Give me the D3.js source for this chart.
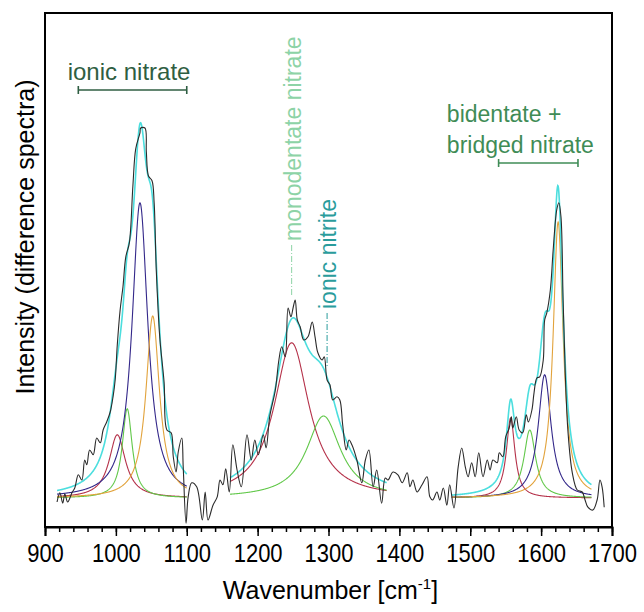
<!DOCTYPE html>
<html>
<head>
<meta charset="utf-8">
<script src="https://cdn.jsdelivr.net/npm/d3@7"></script>
<style>
  html, body { margin: 0; padding: 0; background: #fff; }
  svg { display: block; font-family: "Liberation Sans", Arial, sans-serif; }
</style>
</head>
<body>
<svg id="chart" width="644" height="612"></svg>
<script>
// Measured difference spectrum (wavenumber in cm-1, intensity in arbitrary units)
const wavenumber = [
  917, 921, 925, 928, 932, 938, 942, 947, 952, 956, 959, 963, 968, 973, 978, 982, 987, 992, 996, 999,
  1002, 1006, 1010, 1014, 1019, 1024, 1028, 1034, 1035, 1041, 1043, 1046, 1051, 1054, 1057, 1062, 1068, 1072, 1078, 1081,
  1085, 1088, 1093, 1095, 1099, 1102, 1107, 1114, 1122, 1126, 1130, 1137, 1143, 1147, 1151, 1155, 1160, 1165, 1171, 1177,
  1185, 1191, 1196, 1201, 1208, 1212, 1217, 1225, 1230, 1234, 1239, 1243, 1247, 1250, 1253, 1256, 1260, 1265, 1271, 1277,
  1281, 1285, 1291, 1294, 1298, 1302, 1306, 1312, 1316, 1320, 1325, 1329, 1333, 1340, 1347, 1352, 1357, 1363, 1368, 1375,
  1380, 1384, 1391, 1398, 1404, 1411, 1415, 1419, 1425, 1432, 1439, 1443, 1447, 1453, 1457, 1462, 1467, 1471, 1477, 1483,
  1488, 1493, 1497, 1502, 1507, 1512, 1518, 1524, 1528, 1532, 1538, 1541, 1546, 1550, 1555, 1558, 1560, 1565, 1569, 1574,
  1579, 1582, 1587, 1590, 1594, 1598, 1603, 1605, 1608, 1613, 1617, 1622, 1625, 1628, 1631, 1634, 1638, 1644, 1651, 1658,
  1662, 1666, 1673, 1679, 1683, 1686, 1689
];
const intensity = [
  -0.010, 0.013, -0.013, 0.010, -0.010, 0.013, 0.025, 0.058, 0.045, 0.095, 0.083, 0.120, 0.108, 0.150, 0.138, 0.170, 0.190, 0.215, 0.253, 0.295,
  0.383, 0.470, 0.528, 0.603, 0.638, 0.780, 0.873, 0.913, 0.925, 0.925, 0.865, 0.805, 0.793, 0.738, 0.570, 0.400, 0.290, 0.170, 0.163, 0.103,
  0.065, 0.115, 0.150, 0.078, -0.063, 0.003, 0.038, 0.028, -0.055, 0.015, -0.055, -0.018, 0.003, 0.045, 0.033, 0.073, 0.015, 0.133, 0.070, 0.028,
  0.158, 0.095, 0.145, 0.108, 0.158, 0.125, 0.203, 0.270, 0.345, 0.378, 0.353, 0.475, 0.453, 0.475, 0.495, 0.445, 0.428, 0.395, 0.403, 0.440,
  0.403, 0.363, 0.345, 0.353, 0.295, 0.283, 0.245, 0.253, 0.245, 0.183, 0.120, 0.145, 0.133, 0.095, 0.038, 0.095, 0.120, 0.028, 0.070, -0.013,
  0.050, 0.045, 0.065, 0.058, 0.038, 0.063, 0.028, 0.045, 0.015, 0.033, 0.053, 0.003, -0.005, 0.015, -0.005, 0.025, -0.018, 0.033, -0.025, 0.078,
  0.125, 0.078, 0.053, 0.088, 0.053, 0.113, 0.053, 0.095, 0.070, 0.095, 0.088, 0.113, 0.103, 0.153, 0.175, 0.203, 0.175, 0.203, 0.170, 0.163,
  0.208, 0.190, 0.220, 0.263, 0.300, 0.303, 0.345, 0.445, 0.463, 0.520, 0.620, 0.720, 0.738, 0.703, 0.495, 0.313, 0.163, 0.063, 0.020, 0.015,
  -0.005, -0.023, -0.030, -0.005, 0.045, 0.028, -0.023
];

// Fitted Lorentzian components: position, height and half width at half maximum
const peakCenters    = [1002, 1016, 1034, 1052, 1248, 1293, 1557, 1584, 1605, 1624];
const peakHeights    = [0.158, 0.223, 0.738, 0.455, 0.388, 0.205, 0.200, 0.170, 0.308, 0.690];
const peakHalfWidths = [14, 8.5, 13.5, 11.5, 30, 29, 7.3, 10, 11, 8.5];
const peakBand       = [0, 0, 0, 0, 1, 1, 2, 2, 2, 2];
const peakShape      = ["red", "green", "navy", "orange", "red", "green", "red", "green", "navy", "orange"];

// Wavenumber windows over which each band was fitted
const bandStart = [917, 1161, 1474];
const bandEnd   = [1100, 1382, 1671];

// Axis ticks
const majorTicks = [900, 1000, 1100, 1200, 1300, 1400, 1500, 1600, 1700];
const minorTicks = d3.range(900, 1701, 20);

// Band assignments drawn above the spectrum
const ionicNitrateSpan = [947, 1100];
const bidentateSpan    = [1540, 1652];
const monodentatePos   = 1248;
const ionicNitritePos  = 1298;

const lineColors = {
  red: "#b5324a", green: "#62c84a", navy: "#34288a", orange: "#e2a33c",
  envelope: "#4cdede", spectrum: "#2b2b2b"
};

const svg = d3.select("#chart");
const margin = { left: 45, top: 13, right: 32, bottom: 85 };
const W = 644, H = 612;

const x = d3.scaleLinear().domain([900, 1700]).range([margin.left, W - margin.right]);
const y = d3.scaleLinear().domain([-0.0725, 1.2125]).range([H - margin.bottom, margin.top]);

const lorentz = (w, i) => {
  const d = (w - peakCenters[i]) / peakHalfWidths[i];
  return peakHeights[i] / (1 + d * d);
};

const line = d3.line().x(d => x(d[0])).y(d => y(d[1]));

const plot = svg.append("g");

// Component curves and their sum for each fitted window
[0, 1, 2].forEach(b => {
  const grid = d3.range(bandStart[b], bandEnd[b] + 0.01, 0.5);
  const ids = d3.range(peakCenters.length).filter(i => peakBand[i] === b);
  ids.forEach(i => {
    plot.append("path")
      .attr("d", line(grid.map(w => [w, lorentz(w, i)])))
      .attr("fill", "none")
      .attr("stroke", lineColors[peakShape[i]])
      .attr("stroke-width", 1.1);
  });
  plot.append("path")
    .attr("class", "envelope")
    .attr("d", line(grid.map(w => [w, d3.sum(ids, i => lorentz(w, i))])))
    .attr("fill", "none")
    .attr("stroke", lineColors.envelope)
    .attr("stroke-width", 1.6);
});

// Measured spectrum
plot.append("path")
  .attr("d", d3.line().curve(d3.curveCatmullRom.alpha(0.5))
    .x((d, i) => x(wavenumber[i])).y(d => y(d))(intensity))
  .attr("fill", "none")
  .attr("stroke", lineColors.spectrum)
  .attr("stroke-width", 1.1);

// Frame
svg.append("rect")
  .attr("x", margin.left).attr("y", margin.top)
  .attr("width", W - margin.left - margin.right)
  .attr("height", H - margin.top - margin.bottom)
  .attr("fill", "none").attr("stroke", "#000").attr("stroke-width", 2);

// Bottom axis: labelled major ticks and short minor ticks
const axisY = H - margin.bottom;
const minorAxis = svg.append("g").attr("transform", `translate(0,${axisY})`)
  .call(d3.axisBottom(x).tickValues(minorTicks).tickSize(5).tickFormat(""));
minorAxis.select(".domain").remove();
minorAxis.selectAll("line").attr("stroke", "#000").attr("stroke-width", 1.5);

const majorAxis = svg.append("g").attr("transform", `translate(0,${axisY})`)
  .call(d3.axisBottom(x).tickValues(majorTicks).tickSize(9).tickPadding(8).tickFormat(d3.format("d")));
majorAxis.select(".domain").attr("stroke", "#000").attr("stroke-width", 2);
majorAxis.selectAll("line").attr("stroke", "#000").attr("stroke-width", 1.5);
majorAxis.selectAll("text")
  .attr("font-size", 25)
  .attr("transform", "scale(0.88,1)")
  .attr("font-family", "Liberation Sans, Arial, sans-serif")
  .attr("fill", "#000");

// Axis titles
const xTitle = svg.append("text")
  .attr("x", (margin.left + W - margin.right) / 2 + 2)
  .attr("y", 599)
  .attr("text-anchor", "middle")
  .attr("font-size", 25)
  .attr("fill", "#000");
xTitle.append("tspan").text("Wavenumber [cm");
xTitle.append("tspan").attr("font-size", 15).attr("dy", -10).text("-1");
xTitle.append("tspan").attr("dy", 10).text("]");

svg.append("text")
  .attr("transform", `translate(34,${237}) rotate(-90)`)
  .attr("text-anchor", "middle")
  .attr("font-size", 25)
  .attr("fill", "#000")
  .text("Intensity (difference spectra)");

// Band annotations
const annot = svg.append("g");

function spanBar(span, level, color) {
  const g = annot.append("g").attr("stroke", color).attr("stroke-width", 1.6);
  g.append("line").attr("x1", x(span[0])).attr("x2", x(span[1])).attr("y1", y(level)).attr("y2", y(level));
  span.forEach(s => g.append("line").attr("x1", x(s)).attr("x2", x(s))
    .attr("y1", y(level) - 4).attr("y2", y(level) + 4));
}

const ionicNitrateColor = "#2f5e42";
annot.append("text").attr("x", x(932)).attr("y", y(1.045))
  .attr("font-size", 24).attr("fill", ionicNitrateColor).text("ionic nitrate");
spanBar(ionicNitrateSpan, 1.02, ionicNitrateColor);

const bidentateColor = "#3f8c56";
annot.append("text").attr("x", x(1467)).attr("y", y(0.94))
  .attr("font-size", 23).attr("fill", bidentateColor).text("bidentate +");
annot.append("text").attr("x", x(1467)).attr("y", y(0.8625))
  .attr("font-size", 23).attr("fill", bidentateColor).text("bridged nitrate");
spanBar(bidentateSpan, 0.8375, bidentateColor);

function dropLabel(pos, yTop, yBottom, label, color) {
  annot.append("line")
    .attr("x1", x(pos)).attr("x2", x(pos))
    .attr("y1", y(yTop)).attr("y2", y(yBottom))
    .attr("stroke", color).attr("stroke-width", 1)
    .attr("stroke-dasharray", "6,2,1,2");
  annot.append("text")
    .attr("transform", `translate(${x(pos) + 9},${y(yTop) - 4}) rotate(-90)`)
    .attr("font-size", 23).attr("fill", color).text(label);
}
dropLabel(monodentatePos, 0.6325, 0.5025, "monodentate nitrate", "#8dd3a6");
dropLabel(ionicNitritePos, 0.4625, 0.3275, "ionic nitrite", "#2a9c9c");
</script>
</body>
</html>
